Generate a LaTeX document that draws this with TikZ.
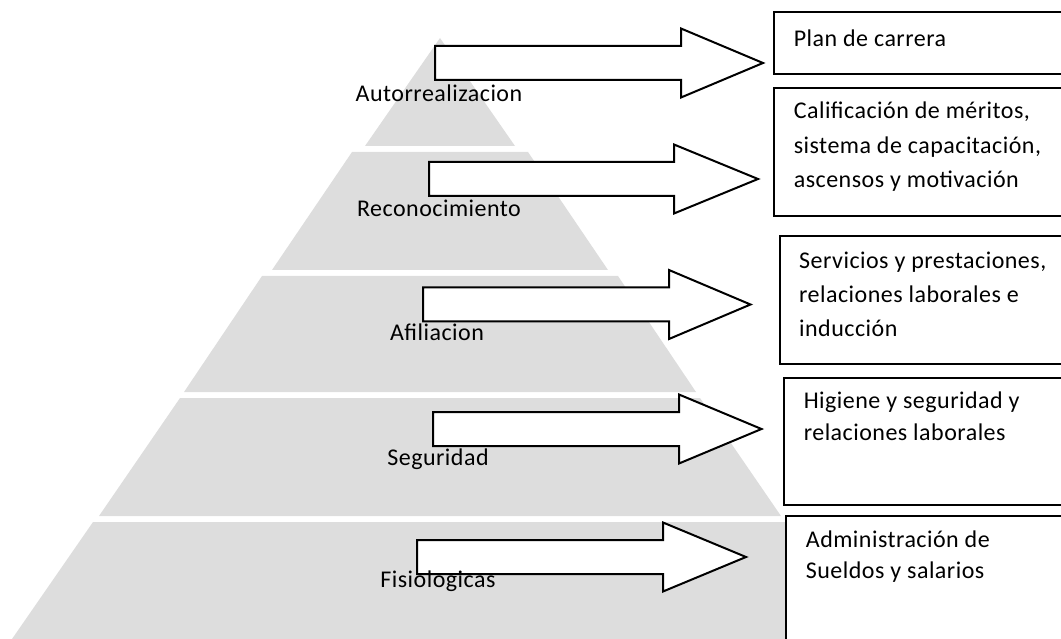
\documentclass[tikz,border=0pt]{standalone}
\usepackage{fontspec}
\setmainfont{Carlito}[LetterSpace=2]
\definecolor{pyrgray}{RGB}{221,221,221}

% one band of the pyramid: top y, top half-width, bottom y, bottom half-width
\newcommand\pyrband[4]{%
  \fill[band] (440-#2,#1) -- (440+#2,#1) -- (440+#4,#3) -- (440-#4,#3) -- cycle;}
% a hollow block arrow: tail x, shoulder x, tip x, centre y
\newcommand\blkarrow[4]{%
  \draw[blockarrow] (#1,#4-17) -- (#2,#4-17) -- (#2,#4-34.5) -- (#3,#4)
    -- (#2,#4+34.5) -- (#2,#4+17) -- (#1,#4+17) -- cycle;}

\begin{document}
\begin{tikzpicture}[x=1pt,y=-1pt,
  band/.style={fill=pyrgray,draw=none},
  blockarrow/.style={draw=black,line width=2pt,fill=white,line join=miter},
  infobox/.style={draw=black,line width=2.4pt,fill=white,anchor=north west,
    minimum width=400pt,inner sep=0pt},
  level/.style={font=\fontsize{24}{28}\selectfont,anchor=base,inner sep=0pt},
  boxtext/.style={font=\fontsize{24}{34.5}\selectfont,align=left,
    anchor=base west,inner sep=0pt},
]
\useasboundingbox (0,0) rectangle (1061,639);
\clip (0,0) rectangle (1061,639);

% pyramid bands
\pyrband{38}{0}{146}{75}
\pyrband{152}{88}{270}{168}
\pyrband{276}{178}{392}{256}
\pyrband{398}{260}{516}{341}
\pyrband{522}{347}{639}{428}

% boxes on the right
\node[infobox,minimum height=62pt]  (b1) at (772.6,11) {};
\node[infobox,minimum height=128pt] (b2) at (772.6,87) {};
\node[infobox,minimum height=128pt] (b3) at (778.8,235) {};
\node[infobox,minimum height=127pt] (b4) at (783,377) {};
\node[infobox,minimum height=160pt] (b5) at (784.7,515) {};

% block arrows from each level to its box
\blkarrow{435}{681}{763}{63}
\blkarrow{429}{674}{758}{179}
\blkarrow{423}{669}{750.5}{304.5}
\blkarrow{433}{679}{761.5}{429}
\blkarrow{417}{663}{746}{557}

% level names
\node[level] (l1) at (439,102) {Autorrealizacion};
\node[level] (l2) at (439,217) {Reconocimiento};
\node[level] (l3) at (437,341) {Afiliacion};
\node[level] (l4) at (438,465) {Seguridad};
\node[level] (l5) at (438,587) {Fisiologicas};

% box texts (anchored at the baseline of the last line)
\node[boxtext] (t1) at (793.6,47) {Plan de carrera};
\node[boxtext] (t2) at (793.6,188) {Calificación de méritos,\\sistema de capacitación,\\ascensos y motivación};
\node[boxtext] (t3) at (799,337) {Servicios y prestaciones,\\relaciones laborales e\\inducción};
\node[boxtext,font=\fontsize{24}{32}\selectfont] (t4) at (803.6,440) {Higiene y seguridad y\\relaciones laborales};
\node[boxtext,font=\fontsize{24}{31}\selectfont] (t5) at (805.7,578) {Administración de\\Sueldos y salarios};
\end{tikzpicture}
\end{document}
